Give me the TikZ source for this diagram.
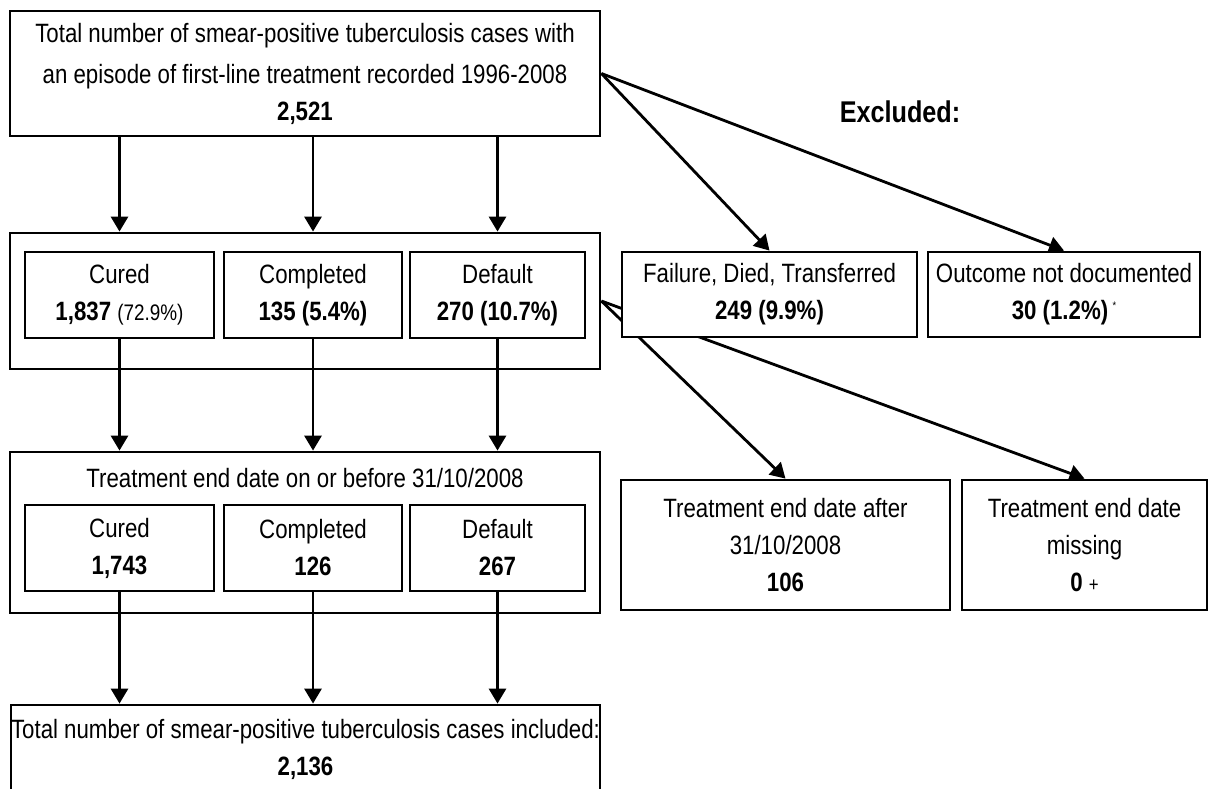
\documentclass[tikz,border=0pt]{standalone}
\usepackage{fontspec}
\setmainfont{Liberation Sans}[FakeStretch=0.84]
\usetikzlibrary{arrows.meta,backgrounds}

\begin{document}
\begin{tikzpicture}[x=1pt, y=-1pt,
  box/.style = {draw, fill=white, line width=2.8pt, align=center, inner sep=0pt, font=\fontsize{26.5}{37}\selectfont},
  group/.style = {draw, line width=2.8pt, inner sep=0pt},
  arr/.style = {->, line width=2.8pt},
  >={Triangle[length=15pt,width=17pt]}]
  \useasboundingbox (0,0) rectangle (1212,788);

  % left column
  \node[box, minimum width=590pt, minimum height=125pt] (total) at (305,73.5)
    {Total number of smear-positive tuberculosis cases with\\[4pt] an episode of first-line treatment recorded 1996-2008\\ \textbf{2,521}};

  \node[group, minimum width=590pt, minimum height=136pt] (grp1) at (305,301) {};
  \node[box, minimum width=189pt, minimum height=86pt] (cured1) at (119.5,295) {Cured\\ \textbf{1,837} {\fontsize{22.5}{37}\selectfont(72.9\%)}};
  \node[box, minimum width=178pt, minimum height=86pt] (compl1) at (313,295) {Completed\\ \textbf{135 (5.4\%)}};
  \node[box, minimum width=175pt, minimum height=86pt] (dflt1) at (497.5,295) {Default\\ \textbf{270 (10.7\%)}};

  \node[group, minimum width=590pt, minimum height=161pt] (grp2) at (305,532.5) {};
  \node[font=\fontsize{26.5}{37}\selectfont, inner sep=0pt] (title2) at (305,478) {Treatment end date on or before 31/10/2008};
  \node[box, minimum width=189pt, minimum height=86pt] (cured2) at (119.5,548) {Cured\\ \textbf{1,743}};
  \node[box, minimum width=178pt, minimum height=86pt] (compl2) at (313,548) {Completed\\ \textbf{126}};
  \node[box, minimum width=175pt, minimum height=86pt] (dflt2) at (497.5,548) {Default\\ \textbf{267}};

  \node[box, minimum width=589pt, minimum height=88pt] (incl) at (305.5,749)
    {Total number of smear-positive tuberculosis cases included:\\ \textbf{2,136}};

  % excluded
  \node[font=\fontsize{30}{36}\selectfont\bfseries] (excl) at (900,112) {Excluded:};
  \node[box, minimum width=295pt, minimum height=85pt] (fail) at (769.5,294.5) {Failure, Died, Transferred\\ \textbf{249 (9.9\%)}};
  \node[box, minimum width=272pt, minimum height=85pt] (outc) at (1064,294.5) {Outcome not documented\\ \textbf{30 (1.2\%)}\,\raisebox{10pt}{\fontsize{11}{12}\selectfont *}};
  \node[box, minimum width=329pt, minimum height=130pt] (after) at (785.5,545) {Treatment end date after\\ 31/10/2008\\ \textbf{106}};
  \node[box, minimum width=245pt, minimum height=130pt] (miss) at (1084.5,545) {Treatment end date\\ missing\\ \textbf{0} {\fontsize{20}{37}\selectfont +}};

  \begin{scope}[on background layer]
    \foreach \a/\b in {cured1/cured2, compl1/compl2, dflt1/dflt2}{
      \draw[arr] (total.south -| \a) -- (grp1.north -| \a);
      \draw[arr] (\a.south) -- (grp2.north -| \a);
      \draw[arr] (\b.south) -- (incl.north -| \b);
    }
    \draw[arr] (total.east) -- (fail.north);
    \draw[arr] (total.east) -- (outc.north);
    \draw[arr] (grp1.east) -- (after.north);
    \draw[arr] (grp1.east) -- (miss.north);
  \end{scope}
\end{tikzpicture}
\end{document}
